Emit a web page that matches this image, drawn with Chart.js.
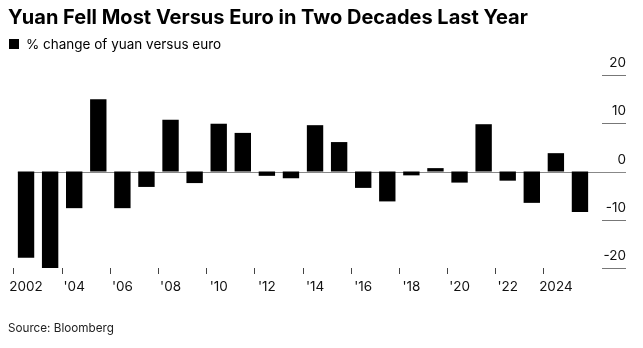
<!DOCTYPE html>
<html>
<head>
<meta charset="utf-8">
<script src="https://cdn.jsdelivr.net/npm/chart.js@4"></script>
<style>
  html, body { margin: 0; padding: 0; background: #fff; }
  body { width: 643px; height: 348px; position: relative; overflow: hidden; font-family: Inter, "Liberation Sans", sans-serif; color: #000; }
  #title { position: absolute; left: 8px; top: 5px; font-size: 20px; font-weight: 700; white-space: nowrap; letter-spacing: 0px; }
  #legend { position: absolute; left: 9px; top: 36px; font-size: 13.5px; white-space: nowrap; display: flex; align-items: center; }
  #legend .sw { width: 10px; height: 10px; background: #000; margin-right: 7px; }
  #source { position: absolute; left: 8px; top: 321px; font-size: 11.7px; color: #222; white-space: nowrap; }
  #c { position: absolute; left: 0; top: 0; }
</style>
</head>
<body>
<canvas id="c" width="643" height="348"></canvas>
<div id="title">Yuan Fell Most Versus Euro in Two Decades Last Year</div>
<div id="legend"><span class="sw"></span><span>% change of yuan versus euro</span></div>
<div id="source">Source: Bloomberg</div>
<script>
const years = ['2002','2003','2004','2005','2006','2007','2008','2009','2010','2011','2012','2013',
               '2014','2015','2016','2017','2018','2019','2020','2021','2022','2023','2024','2025'];
const yuanVsEuro = [-17.9, -20.0, -7.6, 15.0, -7.6, -3.2, 10.7, -2.4, 9.9, 8.0, -0.9, -1.4,
                    9.6, 6.1, -3.4, -6.2, -0.8, 0.7, -2.3, 9.8, -1.9, -6.5, 3.8, -8.4];
const xTickLabels = ['2002','',"'04",'',"'06",'',"'08",'',"'10",'',"'12",'',
                     "'14",'',"'16",'',"'18",'',"'20",'',"'22",'','2024',''];
const yTicks = [-20, -10, 0, 10, 20];

const refLines = {
  id: 'refLines',
  beforeDatasetsDraw(chart) {
    const ctx = chart.ctx;
    const y = chart.scales.y;
    const meta = chart.getDatasetMeta(0);
    const first = meta.data[0];
    ctx.save();
    ctx.strokeStyle = '#777';
    ctx.lineWidth = 1;
    y.ticks.forEach(t => {
      const py = Math.round(y.getPixelForValue(t.value)) + 0.5;
      ctx.beginPath();
      ctx.moveTo(y.left + 10, py);
      ctx.lineTo(y.right, py);
      ctx.stroke();
    });
    const p0 = Math.round(y.getPixelForValue(0)) + 0.5;
    ctx.strokeStyle = '#888';
    ctx.beginPath();
    ctx.moveTo(first.x - first.width / 2, p0);
    ctx.lineTo(y.right, p0);
    ctx.stroke();
    ctx.restore();
  }
};

new Chart(document.getElementById('c'), {
  type: 'bar',
  data: {
    labels: years,
    datasets: [{
      label: '% change of yuan versus euro',
      data: yuanVsEuro,
      backgroundColor: '#000',
      borderWidth: 0,
      categoryPercentage: 1,
      barPercentage: 0.68
    }]
  },
  options: {
    responsive: false,
    animation: false,
    devicePixelRatio: 1,
    layout: { padding: { top: 75, left: 14, right: 17, bottom: 0 } },
    plugins: { legend: { display: false }, tooltip: { enabled: false }, title: { display: false } },
    scales: {
      x: {
        offset: true,
        border: { display: false },
        grid: {
          drawOnChartArea: false,
          drawTicks: true,
          tickLength: 6,
          lineWidth: 1,
          color: (ctx) => (ctx.index % 2 === 0 ? '#444' : 'rgba(0,0,0,0)')
        },
        ticks: {
          autoSkip: false,
          maxRotation: 0,
          minRotation: 0,
          padding: 5,
          color: '#111',
          font: { family: 'Inter, "Liberation Sans", sans-serif', size: 13.5 },
          callback: (v, i) => xTickLabels[i]
        },
        afterFit: (s) => { s.height = 80; }
      },
      y: {
        position: 'right',
        min: -20,
        max: 20,
        border: { display: false },
        grid: { display: false },
        afterBuildTicks: (s) => { s.ticks = yTicks.map(v => ({ value: v })); },
        ticks: {
          crossAlign: 'far',
          labelOffset: -12,
          padding: 0,
          color: '#111',
          font: { family: 'Inter, "Liberation Sans", sans-serif', size: 13.5 }
        },
        afterFit: (s) => { s.width = 34; }
      }
    }
  },
  plugins: [refLines]
});
</script>
</body>
</html>
